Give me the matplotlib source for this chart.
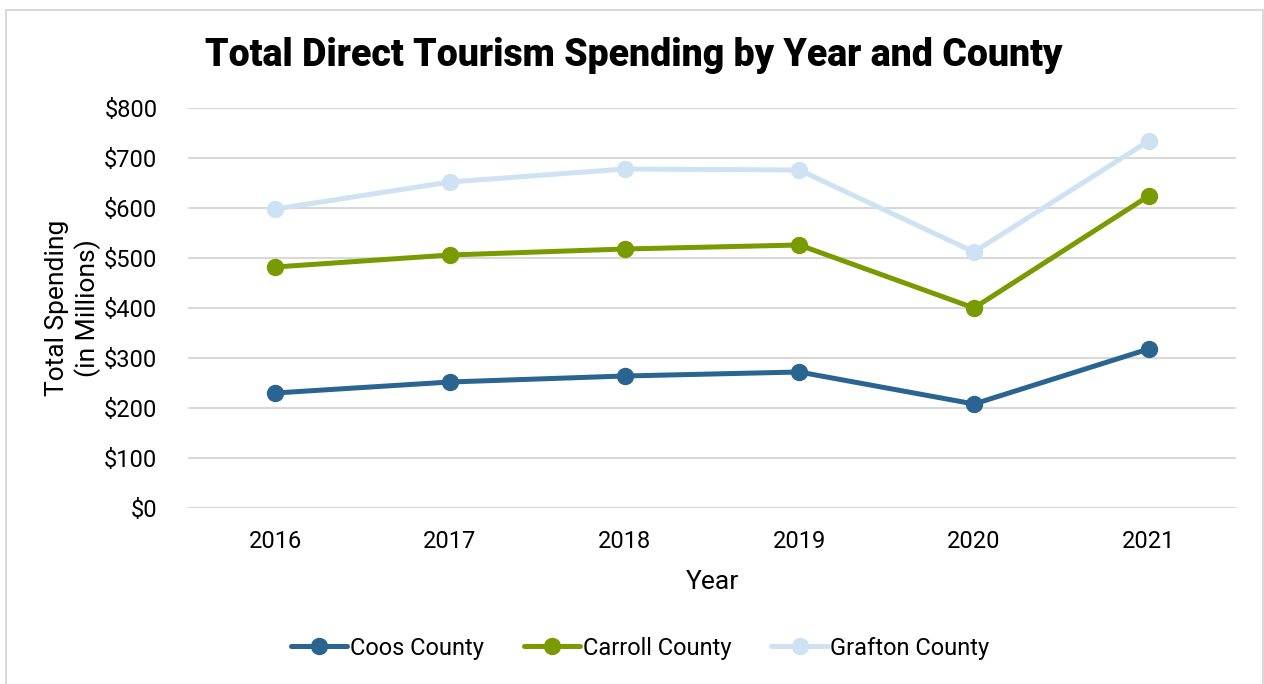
import matplotlib.pyplot as plt
from matplotlib.patches import Rectangle
from matplotlib.ticker import FuncFormatter

years = ['2016', '2017', '2018', '2019', '2020', '2021']
coos = [230, 252, 264, 272, 208, 318]
carroll = [482, 506, 518, 526, 400, 624]
grafton = [598, 652, 678, 676, 512, 734]

plt.rcParams['font.family'] = ['Roboto', 'DejaVu Sans']

fig = plt.figure(figsize=(12.64, 6.84), dpi=100)
ax = fig.add_axes([188 / 1264, 1 - 508 / 684, (1236 - 188) / 1264, 400 / 684])

# light frame around the whole chart
fig.patches.append(Rectangle((6 / 1264, -0.05), 1257 / 1264, 1.05 - 10 / 684,
                             transform=fig.transFigure, fill=False,
                             edgecolor='#d9d9d9', linewidth=1.5))

x = range(len(years))
series = [('Coos County', coos, '#2a6491'),
          ('Carroll County', carroll, '#7a9a01'),
          ('Grafton County', grafton, '#cfe2f3')]
for name, vals, col in series:
    ax.plot(x, vals, color=col, linewidth=3.6, marker='o', markersize=11.5,
            label=name, solid_capstyle='round')

ax.set_xlim(-0.5, len(years) - 0.5)
ax.set_ylim(0, 800)
ax.set_yticks(range(0, 801, 100))
ax.yaxis.set_major_formatter(FuncFormatter(lambda v, p: f'${v:.0f}'))
ax.set_xticks(list(x))
ax.set_xticklabels(years)
ax.grid(axis='y', color='#d9d9d9', linewidth=1.5)
ax.set_axisbelow(True)
for s in ax.spines.values():
    s.set_visible(False)
ax.tick_params(length=0, labelsize=17, pad=16)
ax.tick_params(axis='y', pad=22)

ax.set_xlabel('Year', fontsize=19, labelpad=12)
ax.set_ylabel('Total Spending\n(in Millions)', fontsize=19, labelpad=2,
              linespacing=1.25)

fig.text(634 / 1264, 1 - 55 / 684, 'Total Direct Tourism Spending by Year and County',
         ha='center', va='center', fontsize=27, fontweight='black')

fig.legend(loc='center', bbox_to_anchor=(640 / 1264, 1 - 648 / 684), ncol=3,
           frameon=False, fontsize=17, handlelength=2.4, columnspacing=1.7,
           handletextpad=0.1)

fig.savefig('out.png', dpi=100)
